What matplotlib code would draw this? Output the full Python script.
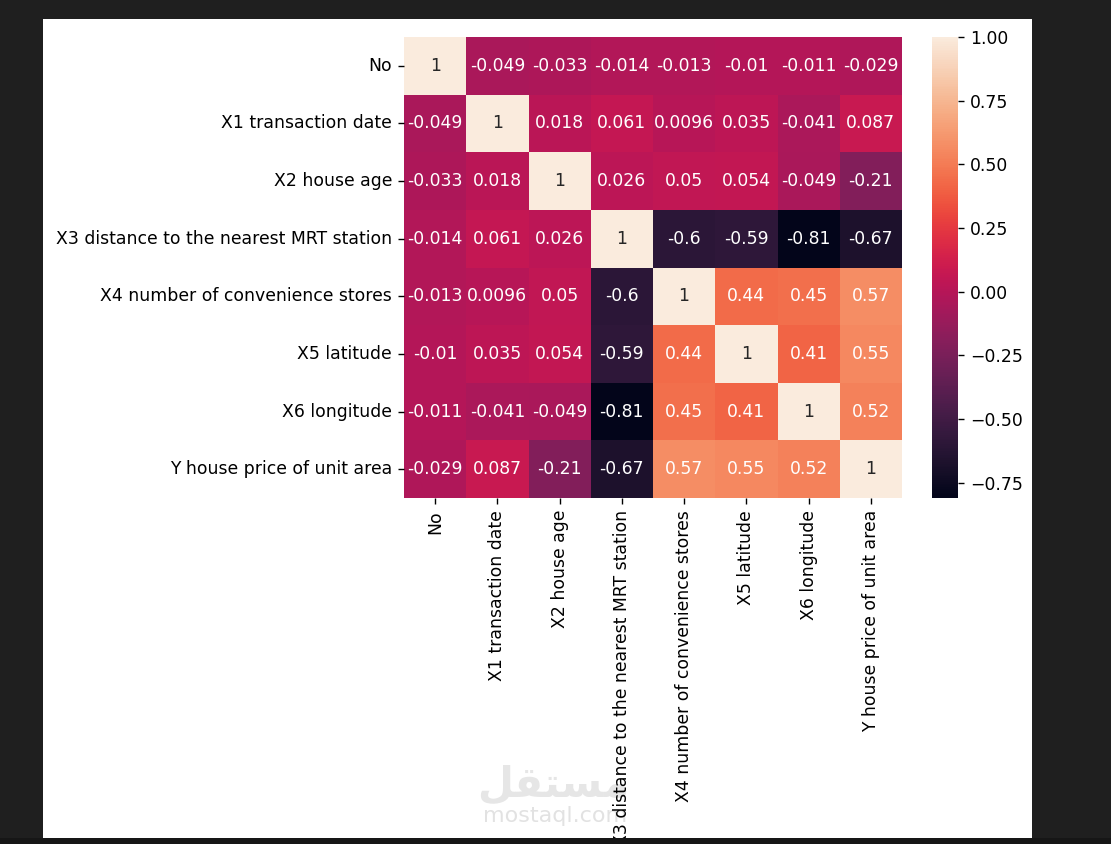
import numpy as np
import pandas as pd
import matplotlib.pyplot as plt
import matplotlib.patches as mpatches
import seaborn as sns

cols = ['No', 'X1 transaction date', 'X2 house age',
        'X3 distance to the nearest MRT station',
        'X4 number of convenience stores', 'X5 latitude', 'X6 longitude',
        'Y house price of unit area']

r_no = [1, -0.049, -0.033, -0.014, -0.013, -0.01, -0.011, -0.029]
r_x1 = [-0.049, 1, 0.018, 0.061, 0.0096, 0.035, -0.041, 0.087]
r_x2 = [-0.033, 0.018, 1, 0.026, 0.05, 0.054, -0.049, -0.21]
r_x3 = [-0.014, 0.061, 0.026, 1, -0.6, -0.59, -0.81, -0.67]
r_x4 = [-0.013, 0.0096, 0.05, -0.6, 1, 0.44, 0.45, 0.57]
r_x5 = [-0.01, 0.035, 0.054, -0.59, 0.44, 1, 0.41, 0.55]
r_x6 = [-0.011, -0.041, -0.049, -0.81, 0.45, 0.41, 1, 0.52]
r_y = [-0.029, 0.087, -0.21, -0.67, 0.57, 0.55, 0.52, 1]

corr = pd.DataFrame([r_no, r_x1, r_x2, r_x3, r_x4, r_x5, r_x6, r_y],
                    index=cols, columns=cols)

W, H = 1111, 844
fig = plt.figure(figsize=(W / 100, H / 100), dpi=100, facecolor='#1f1f1f')

# white "notebook output" panel
panel = mpatches.Rectangle((43 / W, 1 - 838 / H), (1032 - 43) / W, (838 - 19) / H,
                           transform=fig.transFigure, facecolor='white',
                           edgecolor='none', zorder=-10)
fig.add_artist(panel)

# watermark (under the chart text)
fig.text(553 / W, 1 - 784 / H, '\ufede\ufed8\ufe98\ufeb4\ufee3', color='#e6e6e6',
         fontsize=30, fontweight='bold', family=['DejaVu Sans'],
         ha='center', va='center', zorder=-5)
fig.text(555 / W, 1 - 816 / H, 'mostaql.com', color='#e2e2e2', fontsize=16,
         ha='center', va='center', zorder=-5)

ax = fig.add_axes([404 / W, 1 - 498 / H, 498 / W, 461 / H])
cax = fig.add_axes([932 / W, 1 - 498 / H, 26 / W, 461 / H])
ax.patch.set_alpha(0)

fs = 12.4
sns.heatmap(corr, annot=True, ax=ax, cbar_ax=cax, annot_kws={'size': fs})
ax.tick_params(labelsize=fs, length=4.3, width=1.0, pad=4.3)
cax.tick_params(labelsize=fs, length=4.3, width=1.0, pad=4.3)
cax.set_yticks([-0.75, -0.5, -0.25, 0, 0.25, 0.5, 0.75, 1.0])

# bottom strip hiding the overflowing tick label
strip = mpatches.Rectangle((0, 0), 1, 6 / H, transform=fig.transFigure,
                           facecolor='#161616', edgecolor='none', zorder=50)
fig.add_artist(strip)
fig.add_artist(mpatches.Rectangle((0, 0), 43 / W, 1, transform=fig.transFigure,
                                  facecolor='#1f1f1f', edgecolor='none', zorder=49))

fig.text(2 / W, 1 - 30 / H, '.', color='#cccccc', fontsize=8, va='center')

fig.savefig('out.png', dpi=100, facecolor=fig.get_facecolor())
